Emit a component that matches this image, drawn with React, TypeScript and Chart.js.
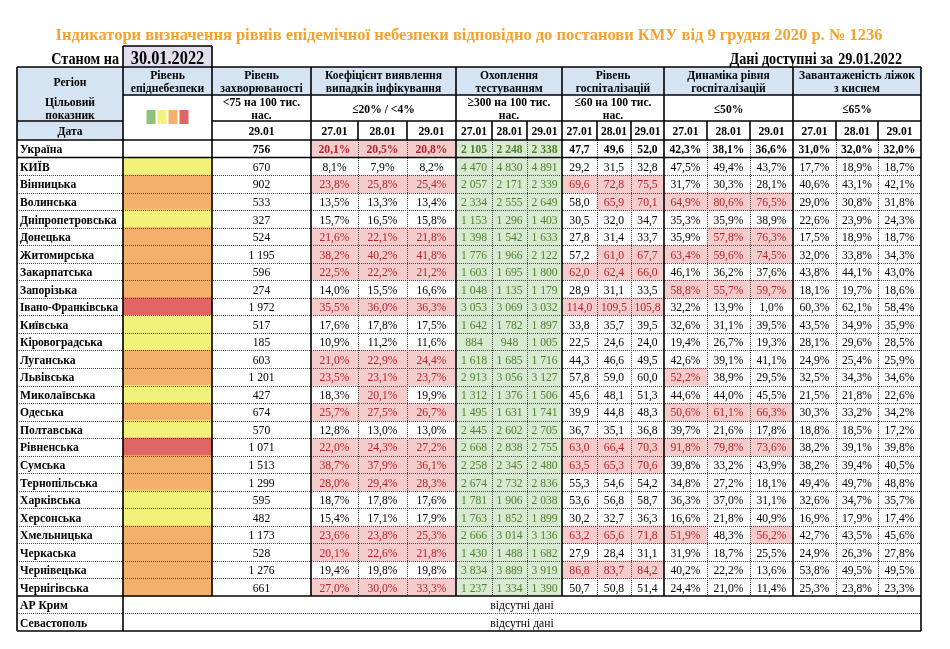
import React, { useEffect, useRef } from "react";
import { Chart, registerables } from "chart.js";

Chart.register(...registerables);

// ---------------- DATA ----------------
const title =
  "Індикатори визначення рівнів епідемічної небезпеки відповідно до постанови КМУ від 9 грудня 2020 р. № 1236";
const asOfLabel = "Станом на";
const asOfDate = "30.01.2022";
const availLabel = "Дані доступні за";
const availDate = "29.01.2022";
const dateLabels = ["27.01", "28.01", "29.01"];
const rateDate = "29.01";
const missingText = "відсутні дані";

const headerRegion = "Регіон";
const headerTarget = ["Цільовий", "показник"];
const headerDate = "Дата";
const groupTitles = [
  ["Рівень", "епіднебезпеки"],
  ["Рівень", "захворюваності"],
  ["Коефіцієнт виявлення", "випадків інфікування"],
  ["Охоплення", "тестуванням"],
  ["Рівень", "госпіталізацій"],
  ["Динаміка рівня", "госпіталізацій"],
  ["Завантаженість ліжок", "з киснем"],
];
const targets = [
  [],
  ["<75 на 100 тис.", "нас."],
  ["≤20% / <4%"],
  ["≥300 на 100 тис.", "нас."],
  ["≤60 на 100 тис.", "нас."],
  ["≤50%"],
  ["≤65%"],
];

const regions = [
  "Україна", "КИЇВ", "Вінницька", "Волинська", "Дніпропетровська", "Донецька",
  "Житомирська", "Закарпатська", "Запорізька", "Івано-Франківська", "Київська",
  "Кіровоградська", "Луганська", "Львівська", "Миколаївська", "Одеська",
  "Полтавська", "Рівненська", "Сумська", "Тернопільська", "Харківська",
  "Херсонська", "Хмельницька", "Черкаська", "Чернівецька", "Чернігівська",
  "АР Крим", "Севастополь",
];

// epidemic level: "" none, Y yellow, O orange, R red
const levels = [
  "", "Y", "O", "O", "Y", "O", "O", "O", "O", "R", "Y", "Y", "O", "O", "Y", "O",
  "Y", "R", "O", "O", "Y", "Y", "O", "O", "O", "O",
];

const rate = [
  756, 670, 902, 533, 327, 524, 1195, 596, 274, 1972, 517, 185, 603, 1201, 427,
  674, 570, 1071, 1513, 1299, 595, 482, 1173, 528, 1276, 661,
];

const coef27 = [20.1, 8.1, 23.8, 13.5, 15.7, 21.6, 38.2, 22.5, 14.0, 35.5, 17.6, 10.9, 21.0, 23.5, 18.3, 25.7, 12.8, 22.0, 38.7, 28.0, 18.7, 15.4, 23.6, 20.1, 19.4, 27.0];
const coef28 = [20.5, 7.9, 25.8, 13.3, 16.5, 22.1, 40.2, 22.2, 15.5, 36.0, 17.8, 11.2, 22.9, 23.1, 20.1, 27.5, 13.0, 24.3, 37.9, 29.4, 17.8, 17.1, 23.8, 22.6, 19.8, 30.0];
const coef29 = [20.8, 8.2, 25.4, 13.4, 15.8, 21.8, 41.8, 21.2, 16.6, 36.3, 17.5, 11.6, 24.4, 23.7, 19.9, 26.7, 13.0, 27.2, 36.1, 28.3, 17.6, 17.9, 25.3, 21.8, 19.8, 33.3];

const test27 = [2105, 4470, 2057, 2334, 1153, 1398, 1776, 1603, 1048, 3053, 1642, 884, 1618, 2913, 1312, 1495, 2445, 2668, 2258, 2674, 1781, 1763, 2666, 1430, 3834, 1237];
const test28 = [2248, 4830, 2171, 2555, 1296, 1542, 1966, 1695, 1135, 3069, 1782, 948, 1685, 3056, 1376, 1631, 2602, 2838, 2345, 2732, 1906, 1852, 3014, 1488, 3889, 1334];
const test29 = [2338, 4891, 2339, 2649, 1403, 1633, 2122, 1800, 1179, 3032, 1897, 1005, 1716, 3127, 1506, 1741, 2705, 2755, 2480, 2836, 2038, 1899, 3136, 1682, 3919, 1390];

const hosp27 = [47.7, 29.2, 69.6, 58.0, 30.5, 27.8, 57.2, 62.0, 28.9, 114.0, 33.8, 22.5, 44.3, 57.8, 45.6, 39.9, 36.7, 63.0, 63.5, 55.3, 53.6, 30.2, 63.2, 27.9, 86.8, 50.7];
const hosp28 = [49.6, 31.5, 72.8, 65.9, 32.0, 31.4, 61.0, 62.4, 31.1, 109.5, 35.7, 24.6, 46.6, 59.0, 48.1, 44.8, 35.1, 66.4, 65.3, 54.6, 56.8, 32.7, 65.6, 28.4, 83.7, 50.8];
const hosp29 = [52.0, 32.8, 75.5, 70.1, 34.7, 33.7, 67.7, 66.0, 33.5, 105.8, 39.5, 24.0, 49.5, 60.0, 51.3, 48.3, 36.8, 70.3, 70.6, 54.2, 58.7, 36.3, 71.8, 31.1, 84.2, 51.4];

const dyn27 = [42.3, 47.5, 31.7, 64.9, 35.3, 35.9, 63.4, 46.1, 58.8, 32.2, 32.6, 19.4, 42.6, 52.2, 44.6, 50.6, 39.7, 91.8, 39.8, 34.8, 36.3, 16.6, 51.9, 31.9, 40.2, 24.4];
const dyn28 = [38.1, 49.4, 30.3, 80.6, 35.9, 57.8, 59.6, 36.2, 55.7, 13.9, 31.1, 26.7, 39.1, 38.9, 44.0, 61.1, 21.6, 79.8, 33.2, 27.2, 37.0, 21.8, 48.3, 18.7, 22.2, 21.0];
const dyn29 = [36.6, 43.7, 28.1, 76.5, 38.9, 76.3, 74.5, 37.6, 59.7, 1.0, 39.5, 19.3, 41.1, 29.5, 45.5, 66.3, 17.8, 73.6, 43.9, 18.1, 31.1, 40.9, 56.2, 25.5, 13.6, 11.4];

const beds27 = [31.0, 17.7, 40.6, 29.0, 22.6, 17.5, 32.0, 43.8, 18.1, 60.3, 43.5, 28.1, 24.9, 32.5, 21.5, 30.3, 18.8, 38.2, 38.2, 49.4, 32.6, 16.9, 42.7, 24.9, 53.8, 25.3];
const beds28 = [32.0, 18.9, 43.1, 30.8, 23.9, 18.9, 33.8, 44.1, 19.7, 62.1, 34.9, 29.6, 25.4, 34.3, 21.8, 33.2, 18.5, 39.1, 39.4, 49.7, 34.7, 17.9, 43.5, 26.3, 49.5, 23.8];
const beds29 = [32.0, 18.7, 42.1, 31.8, 24.3, 18.7, 34.3, 43.0, 18.6, 58.4, 35.9, 28.5, 25.9, 34.6, 22.6, 34.2, 17.2, 39.8, 40.5, 48.8, 35.7, 17.4, 45.6, 27.8, 49.5, 23.3];

// thresholds taken from the target row
const coefLimit = 20;
const hospLimit = 60;
const dynLimit = 50;
const bedsLimit = 65;

// ---------------- LAYOUT / STYLE ----------------
const W = 950;
const H = 649;
const FONT = "'Liberation Serif', 'Times New Roman', serif";
const SQ = 0.86; // horizontal text squeeze
const FS = 13.5; // table font size
// column edges in canvas px (x scale spans 0..W)
const colEdges = [17, 123, 212, 311, 358, 407, 456, 492, 527, 562, 597, 631, 664, 707, 750, 793, 836, 878, 921];
const groupSpans = [[1, 2], [2, 3], [3, 6], [6, 9], [9, 12], [12, 15], [15, 18]];
const solidIdx = [0, 1, 2, 3, 6, 9, 12, 15, 18];
const headerHeights = [28, 26, 19];
const DATA_TOP = 140;
const DATA_BOTTOM = 631;

const C = {
  headerBlue: "#D5E4F2",
  lavender: "#E3DEEC",
  title: "#F7A12B",
  pinkFill: "#F4CCCC",
  pinkText: "#B4232A",
  greenFill: "#D9EAD3",
  greenText: "#4E7F2A",
  Y: "#F2F27A",
  O: "#F5B06C",
  R: "#E06666",
  G: "#8FC17B",
  dotted: "#444444",
};

// ---------------- helpers ----------------
const fmtInt = (n: number) =>
  n >= 1000 ? `${Math.floor(n / 1000)} ${String(n % 1000).padStart(3, "0")}` : String(n);
const fmt1 = (n: number) => n.toFixed(1).replace(".", ",");
const fmtPct = (n: number) => fmt1(n) + "%";

function drawText(
  ctx: CanvasRenderingContext2D, s: string, x: number, y: number, size: number,
  bold: boolean, color: string, align: CanvasTextAlign = "center", sx = SQ
) {
  ctx.save();
  ctx.font = `${bold ? "bold " : ""}${size}px ${FONT}`;
  ctx.fillStyle = color;
  ctx.textAlign = align;
  ctx.textBaseline = "alphabetic";
  ctx.translate(x, y);
  ctx.scale(sx, 1);
  ctx.fillText(s, 0, 0);
  ctx.restore();
}
function measure(ctx: CanvasRenderingContext2D, s: string, size: number, bold: boolean) {
  ctx.save();
  ctx.font = `${bold ? "bold " : ""}${size}px ${FONT}`;
  const w = ctx.measureText(s).width;
  ctx.restore();
  return w;
}
function line(ctx: CanvasRenderingContext2D, x1: number, y1: number, x2: number, y2: number, dotted = false) {
  ctx.save();
  ctx.beginPath();
  if (dotted) {
    ctx.setLineDash([1, 1]);
    ctx.lineWidth = 1;
    ctx.strokeStyle = C.dotted;
    if (y1 === y2) {
      const y = Math.round(y1) + 0.5;
      ctx.moveTo(x1, y); ctx.lineTo(x2, y);
    } else {
      const x = Math.round(x1) + 0.5;
      ctx.moveTo(x, y1); ctx.lineTo(x, y2);
    }
  } else {
    ctx.lineWidth = 1.6;
    ctx.strokeStyle = "#000";
    ctx.moveTo(x1, y1); ctx.lineTo(x2, y2);
  }
  ctx.stroke();
  ctx.restore();
}

// ---------------- datasets ----------------
const nRows = regions.length;
const nData = rate.length;
const span = (c: number) => regions.map((_, i) => (i < nData ? [colEdges[c], colEdges[c + 1]] : null));

type Series = { vals: number[]; kind: "pct" | "int" | "dec"; limit?: number; green?: boolean };
const seriesCols: Series[] = [
  { vals: coef27, kind: "pct", limit: coefLimit },
  { vals: coef28, kind: "pct", limit: coefLimit },
  { vals: coef29, kind: "pct", limit: coefLimit },
  { vals: test27, kind: "int", green: true },
  { vals: test28, kind: "int", green: true },
  { vals: test29, kind: "int", green: true },
  { vals: hosp27, kind: "dec", limit: hospLimit },
  { vals: hosp28, kind: "dec", limit: hospLimit },
  { vals: hosp29, kind: "dec", limit: hospLimit },
  { vals: dyn27, kind: "pct", limit: dynLimit },
  { vals: dyn28, kind: "pct", limit: dynLimit },
  { vals: dyn29, kind: "pct", limit: dynLimit },
  { vals: beds27, kind: "pct", limit: bedsLimit },
  { vals: beds28, kind: "pct", limit: bedsLimit },
  { vals: beds29, kind: "pct", limit: bedsLimit },
];

function buildDatasets() {
  const common = { grouped: false, barPercentage: 1, categoryPercentage: 1, borderWidth: 0 };
  const ds: any[] = [];
  ds.push({
    ...common, label: "region",
    data: regions.map(() => [colEdges[0], colEdges[1]]),
    backgroundColor: "rgba(0,0,0,0)",
    texts: regions, align: "left", bold: regions.map(() => true),
  });
  ds.push({
    ...common, label: "level", data: span(1),
    backgroundColor: regions.map((_, i) => (levels[i] ? (C as any)[levels[i]] : "rgba(0,0,0,0)")),
    texts: [],
  });
  ds.push({
    ...common, label: "rate", data: span(2),
    backgroundColor: "rgba(0,0,0,0)",
    texts: rate.map(fmtInt), bold: rate.map((_, i) => i === 0),
  });
  seriesCols.forEach((s, k) => {
    const hi = s.vals.map((v) => (s.limit !== undefined ? v > s.limit : false));
    ds.push({
      ...common, label: "s" + k, data: span(3 + k),
      backgroundColor: s.vals.map((_, i) => (s.green ? C.greenFill : hi[i] ? C.pinkFill : "rgba(0,0,0,0)")),
      texts: s.vals.map((v) => (s.kind === "int" ? fmtInt(v) : s.kind === "dec" ? fmt1(v) : fmtPct(v))),
      textColors: s.vals.map((_, i) => (s.green ? C.greenText : hi[i] ? C.pinkText : "#000")),
      bold: s.vals.map((_, i) => i === 0),
    });
  });
  ds.push({
    ...common, label: "missing",
    data: regions.map((_, i) => (i >= nData ? [colEdges[1], colEdges[colEdges.length - 1]] : null)),
    backgroundColor: "rgba(0,0,0,0)",
    texts: regions.map((_, i) => (i >= nData ? missingText : "")),
  });
  return ds;
}

// ---------------- plugin ----------------
const tablePlugin = {
  id: "tablePlugin",
  afterDatasetsDraw(chart: any) {
    const ctx: CanvasRenderingContext2D = chart.ctx;
    const xs = chart.scales.x;
    const ys = chart.scales.y;
    const X = (v: number) => xs.getPixelForValue(v);
    const step = ys.getPixelForValue(1) - ys.getPixelForValue(0);
    const rowTop = (i: number) => ys.getPixelForValue(i) - step / 2;
    const top = rowTop(0);
    const bottom = rowTop(nRows);
    const left = X(colEdges[0]);
    const right = X(colEdges[colEdges.length - 1]);
    const h1 = top - headerHeights[0] - headerHeights[1] - headerHeights[2];
    const h2 = h1 + headerHeights[0];
    const h3 = h2 + headerHeights[1];

    // ----- cell texts -----
    chart.data.datasets.forEach((ds: any, di: number) => {
      const meta = chart.getDatasetMeta(di);
      meta.data.forEach((el: any, i: number) => {
        if (ds.data[i] == null) return;
        const t = ds.texts && ds.texts[i];
        if (!t) return;
        const p = el.getProps(["x", "base", "y"], true);
        const l = Math.min(p.x, p.base);
        const r = Math.max(p.x, p.base);
        const bold = !!(ds.bold && ds.bold[i]);
        const color = (ds.textColors && ds.textColors[i]) || "#000";
        if (ds.align === "left") {
          let size = FS;
          while (measure(ctx, t, size, bold) * SQ > r - l - 5 && size > 9) size -= 0.5;
          drawText(ctx, t, l + 3, p.y + size * 0.34, size, bold, color, "left");
        } else {
          drawText(ctx, t, (l + r) / 2, p.y + FS * 0.34, FS, bold, color, "center");
        }
      });
    });

    // ----- header fills -----
    ctx.save();
    ctx.fillStyle = C.headerBlue;
    ctx.fillRect(left, h1, X(colEdges[1]) - left, top - h1);
    ctx.fillRect(X(colEdges[1]), h1, right - X(colEdges[1]), h2 - h1);
    ctx.restore();

    // legend squares
    const lc = (X(colEdges[1]) + X(colEdges[2])) / 2;
    const sqW = 9, gap = 2, sqH = 14;
    const startX = lc - (4 * sqW + 3 * gap) / 2;
    const sqY = (h2 + top) / 2 - sqH / 2 - 0.5;
    ["G", "Y", "O", "R"].forEach((k, j) => {
      ctx.fillStyle = (C as any)[k];
      ctx.fillRect(startX + j * (sqW + gap), sqY, sqW, sqH);
    });

    // header texts
    const c1 = (h1 + h2) / 2;
    const c2 = (h2 + h3) / 2;
    const c3 = (h3 + top) / 2;
    const hs = FS;
    const off = FS * 0.34;
    const lh = 13.5;
    const regionC = (left + X(colEdges[1])) / 2;
    drawText(ctx, headerRegion, regionC, c1 + off, hs, true, "#000");
    drawText(ctx, headerTarget[0], regionC, c2 - lh / 2 + off, hs, true, "#000");
    drawText(ctx, headerTarget[1], regionC, c2 + lh / 2 + off, hs, true, "#000");
    drawText(ctx, headerDate, regionC, c3 + off, hs, true, "#000");
    groupSpans.forEach(([a, b], g) => {
      const cx = (X(colEdges[a]) + X(colEdges[b])) / 2;
      const gt = groupTitles[g];
      gt.forEach((s, j) => drawText(ctx, s, cx, c1 + (j - (gt.length - 1) / 2) * lh + off, hs, true, "#000"));
      const tg = targets[g];
      tg.forEach((s, j) => drawText(ctx, s, cx, c2 + (j - (tg.length - 1) / 2) * lh + off, hs, true, "#000"));
      if (g === 1) drawText(ctx, rateDate, cx, c3 + off, hs, true, "#000");
      if (g >= 2) {
        for (let k = 0; k < 3; k++) {
          const sx = (X(colEdges[a + k]) + X(colEdges[a + k + 1])) / 2;
          drawText(ctx, dateLabels[k], sx, c3 + off, hs, true, "#000");
        }
      }
    });

    // ----- title and top labels -----
    const tw = measure(ctx, title, 16.5, true);
    const tTarget = 827;
    drawText(ctx, title, (left + right) / 2, 40, 16.5, true, C.title, "center", tTarget / tw);
    drawText(ctx, asOfLabel, X(colEdges[1]) - 4, 64, 16.5, true, "#000", "right");
    ctx.save();
    ctx.fillStyle = C.lavender;
    ctx.fillRect(X(colEdges[1]), 46, X(colEdges[2]) - X(colEdges[1]), h1 - 46);
    ctx.restore();
    line(ctx, X(colEdges[1]), 46, X(colEdges[2]), 46);
    line(ctx, X(colEdges[1]), 46, X(colEdges[1]), h1);
    line(ctx, X(colEdges[2]), 46, X(colEdges[2]), h1);
    drawText(ctx, asOfDate, (X(colEdges[1]) + X(colEdges[2])) / 2, 63.5, 19, true, "#000");
    drawText(ctx, availDate, 902, 64, 16.5, true, "#000", "right");
    drawText(ctx, availLabel, 833, 64, 16.5, true, "#000", "right");

    // ----- grid lines -----
    const dataEnd = rowTop(nData);
    for (let i = 1; i < nRows; i++) {
      if (i === 1 || i === nData) continue;
      line(ctx, left, rowTop(i), right, rowTop(i), true);
    }
    colEdges.forEach((e, idx) => {
      if (solidIdx.includes(idx)) return;
      line(ctx, X(e), top, X(e), dataEnd, true);
    });
    line(ctx, left, h1, right, h1);
    line(ctx, X(colEdges[1]), h2, right, h2);
    line(ctx, left, h3, X(colEdges[1]), h3);
    line(ctx, X(colEdges[2]), h3, right, h3);
    line(ctx, left, top, right, top);
    line(ctx, left, rowTop(1), right, rowTop(1));
    line(ctx, left, dataEnd, right, dataEnd);
    line(ctx, left, bottom, right, bottom);
    solidIdx.forEach((idx) => {
      const x = X(colEdges[idx]);
      if (idx === 0 || idx === 1 || idx === colEdges.length - 1) {
        line(ctx, x, h1, x, bottom);
      } else {
        line(ctx, x, h1, x, dataEnd);
      }
    });
    colEdges.forEach((e, idx) => {
      if (solidIdx.includes(idx)) return;
      line(ctx, X(e), h3, X(e), top);
    });
  },
};

export default function App() {
  const ref = useRef<HTMLCanvasElement | null>(null);
  useEffect(() => {
    if (!ref.current) return;
    const chart = new Chart(ref.current, {
      type: "bar",
      data: { labels: regions, datasets: buildDatasets() },
      options: {
        indexAxis: "y",
        animation: false,
        responsive: false,
        events: [],
        layout: { padding: { left: 0, right: 0, top: DATA_TOP, bottom: H - DATA_BOTTOM } },
        scales: {
          x: { type: "linear", min: 0, max: W, display: false },
          y: { type: "category", display: false, offset: true },
        },
        plugins: { legend: { display: false }, tooltip: { enabled: false }, title: { display: false } },
      } as any,
      plugins: [tablePlugin],
    });
    return () => chart.destroy();
  }, []);
  return (
    <div style={{ position: "fixed", left: 0, top: 0, width: W, height: H, background: "#fff" }}>
      <canvas ref={ref} width={W} height={H} style={{ display: "block", width: W, height: H }} />
    </div>
  );
}
